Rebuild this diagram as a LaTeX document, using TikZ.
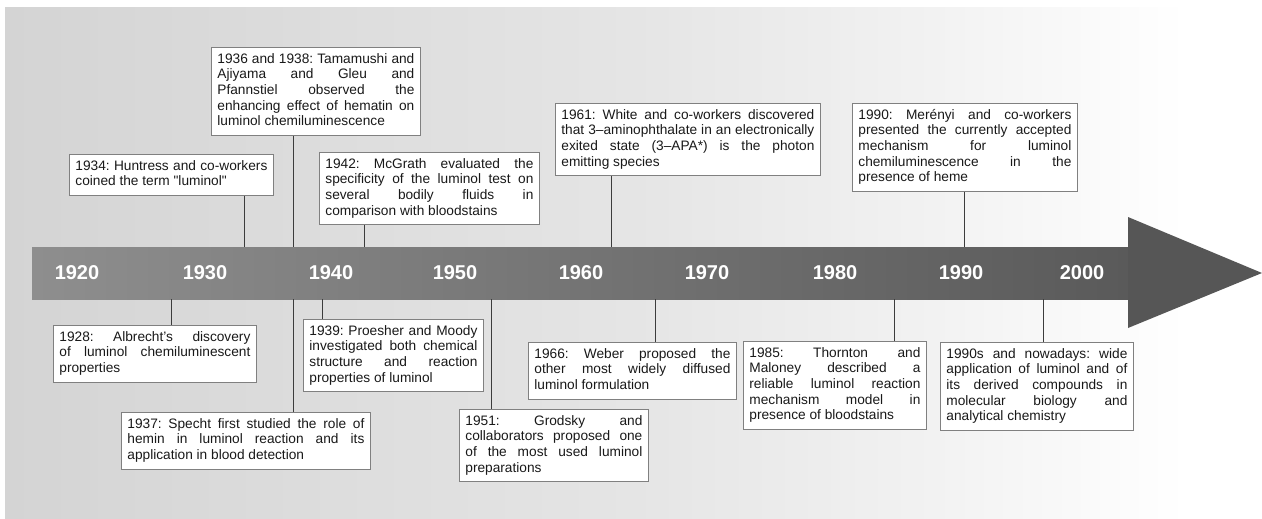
\documentclass[tikz,border=0pt]{standalone}
\usepackage{fontspec}
\setmainfont{Liberation Sans}[Ligatures=TeXOff]
\frenchspacing
\definecolor{bandL}{RGB}{142,142,142}
\definecolor{bandR}{RGB}{90,90,90}
\definecolor{headC}{RGB}{86,86,86}
\definecolor{bgA}{RGB}{212,212,212}
\definecolor{bgB}{RGB}{229,229,229}
\definecolor{bgC}{RGB}{242,242,242}
\definecolor{boxline}{RGB}{128,128,128}
\definecolor{conn}{RGB}{60,60,60}
\definecolor{txt}{RGB}{25,25,25}
\pgfdeclarehorizontalshading{bgshade}{100bp}{color(0bp)=(bgA); color(25bp)=(bgA); color(50bp)=(bgB); color(62bp)=(bgC); color(72bp)=(white); color(100bp)=(white)}
\newcommand\jline[1]{\hbox to\hsize{\spaceskip=0.278em plus 1fil minus 0.06em\xspaceskip=\spaceskip\strut #1}}
\newcommand\lline[1]{\hbox to\hsize{\spaceskip=0.278em\xspaceskip=\spaceskip\strut #1\hfil}}
\newcommand\evt[1]{\noindent\vbox{#1}}
\tikzset{
  evbox/.style={draw=boxline, line width=0.8pt, fill=white, anchor=north west,
    inner xsep=6pt, inner ysep=4.8pt, font=\fontsize{13.7}{15.7}\selectfont, text=txt},
  yr/.style={text=white, font=\fontsize{20}{24}\selectfont\bfseries, inner sep=0pt},
  connline/.style={draw=conn, line width=0.9pt}
}
\begin{document}
\begin{tikzpicture}[x=1pt,y=-1pt]
\useasboundingbox (0,0) rectangle (1262,519);
% background
\shade[shading=bgshade] (5,8) rectangle (1262,519);
% arrow
\shade[left color=bandL, right color=bandR] (32,247) rectangle (1128,299);
\fill[headC] (1128,217) -- (1262,273) -- (1128,328) -- cycle;
% anchor points on the band
\coordinate (t1934) at (244,247);
\coordinate (t1936) at (293,247);
\coordinate (t1942) at (364,247);
\coordinate (t1961) at (611,247);
\coordinate (t1990) at (964,247);
\coordinate (u1928) at (171,299);
\coordinate (u1937) at (293,299);
\coordinate (u1939) at (322,299);
\coordinate (u1951) at (491,299);
\coordinate (u1966) at (655,299);
\coordinate (u1985) at (894,299);
\coordinate (u1990s) at (1043,299);
% year labels
\node[yr] (y1920) at (77,273) {1920};
\node[yr] (y1930) at (205,273) {1930};
\node[yr] (y1940) at (331,273) {1940};
\node[yr] (y1950) at (455,273) {1950};
\node[yr] (y1960) at (581,273) {1960};
\node[yr] (y1970) at (707,273) {1970};
\node[yr] (y1980) at (835,273) {1980};
\node[yr] (y1990) at (961,273) {1990};
\node[yr] (y2000) at (1082,273) {2000};
% upper boxes
\node[evbox, text width=192pt] (b1934) at (69,154) {\evt{\jline{1934: Huntress and co-workers}\lline{coined the term "luminol"}}};
\node[evbox, text width=197pt] (b1936) at (211,47) {\evt{\jline{1936 and 1938: Tamamushi and}\jline{Ajiyama and Gleu and}\jline{Pfannstiel observed the}\jline{enhancing effect of hematin on}\lline{luminol chemiluminescence}}};
\node[evbox, text width=208pt] (b1942) at (319,152) {\evt{\jline{1942: McGrath evaluated the}\jline{specificity of the luminol test on}\jline{several bodily fluids in}\lline{comparison with bloodstains}}};
\node[evbox, text width=253pt] (b1961) at (555,103) {\evt{\jline{1961: White and co-workers discovered}\jline{that 3–aminophthalate in an electronically}\jline{exited state (3–APA*) is the photon}\lline{emitting species}}};
\node[evbox, text width=213pt] (b1990) at (852,103) {\evt{\jline{1990: Merényi and co-workers}\jline{presented the currently accepted}\jline{mechanism for luminol}\jline{chemiluminescence in the}\lline{presence of heme}}};
% lower boxes
\node[evbox, text width=191pt] (b1928) at (53,325) {\evt{\jline{1928: Albrecht’s discovery}\jline{of luminol chemiluminescent}\lline{properties}}};
\node[evbox, text width=237pt] (b1937) at (121,412) {\evt{\jline{1937: Specht first studied the role of}\jline{hemin in luminol reaction and its}\lline{application in blood detection}}};
\node[evbox, text width=168pt] (b1939) at (303,319) {\evt{\jline{1939: Proesher and Moody}\jline{investigated both chemical}\jline{structure and reaction}\lline{properties of luminol}}};
\node[evbox, text width=177pt] (b1951) at (459,409) {\evt{\jline{1951: Grodsky and}\jline{collaborators proposed one}\jline{of the most used luminol}\lline{preparations}}};
\node[evbox, text width=196pt] (b1966) at (528,342) {\evt{\jline{1966: Weber proposed the}\jline{other most widely diffused}\lline{luminol formulation}}};
\node[evbox, text width=171pt] (b1985) at (743,341) {\evt{\jline{1985: Thornton and}\jline{Maloney described a}\jline{reliable luminol reaction}\jline{mechanism model in}\lline{presence of bloodstains}}};
\node[evbox, text width=181pt] (b1990s) at (940,342) {\evt{\jline{1990s and nowadays: wide}\jline{application of luminol and of}\jline{its derived compounds in}\jline{molecular biology and}\lline{analytical chemistry}}};
% connectors
\draw[connline] (b1934.south -| t1934) -- (t1934);
\draw[connline] (b1936.south -| t1936) -- (t1936);
\draw[connline] (b1942.south -| t1942) -- (t1942);
\draw[connline] (b1961.south -| t1961) -- (t1961);
\draw[connline] (b1990.south -| t1990) -- (t1990);
\draw[connline] (u1928) -- (b1928.north -| u1928);
\draw[connline] (u1937) -- (b1937.north -| u1937);
\draw[connline] (u1939) -- (b1939.north -| u1939);
\draw[connline] (u1951) -- (b1951.north -| u1951);
\draw[connline] (u1966) -- (b1966.north -| u1966);
\draw[connline] (u1985) -- (b1985.north -| u1985);
\draw[connline] (u1990s) -- (b1990s.north -| u1990s);
\end{tikzpicture}
\end{document}
